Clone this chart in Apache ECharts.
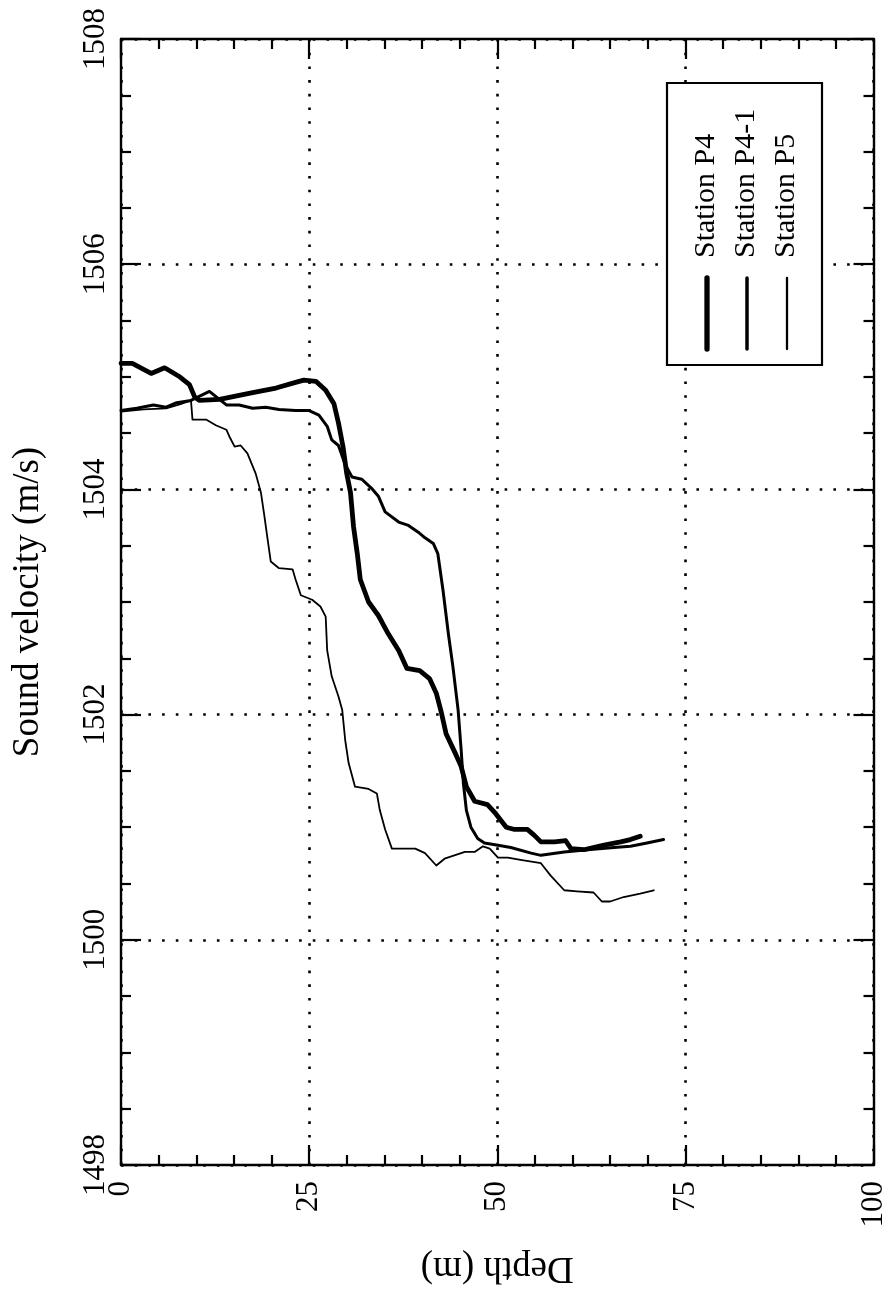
<!DOCTYPE html>
<html>
<head>
<meta charset="utf-8">
<script src="https://cdn.jsdelivr.net/npm/echarts@6/dist/echarts.min.js"></script>
<style>
html,body{margin:0;padding:0;background:#fff;}
#chart{width:889px;height:1293px;}
</style>
</head>
<body>
<div id="chart"></div>
<script>
// ---- Data ----
const seriesNames = ['Station P4', 'Station P4-1', 'Station P5'];

const p4Depth = [0,1.5,4,5.8,7.8,9.1,9.8,10.4,13.1,17.5,20.6,23.2,24.3,25.9,27.2,28.3,28.9,29.5,30.0,30.5,30.9,31.4,31.8,32.9,34.2,35.5,36.9,38.0,39.7,41.0,41.9,42.6,43.2,44.4,45.2,45.9,47.0,48.7,49.8,51.2,52.3,54.0,54.9,55.8,57.6,59.1,59.8,61.5,64.2,66.4,67.7,69.0];
const p4Vel = [1505.12,1505.12,1505.03,1505.08,1505.00,1504.93,1504.82,1504.79,1504.80,1504.86,1504.90,1504.95,1504.97,1504.96,1504.88,1504.76,1504.59,1504.38,1504.14,1503.97,1503.67,1503.43,1503.20,1503.00,1502.88,1502.72,1502.57,1502.41,1502.39,1502.32,1502.19,1502.01,1501.83,1501.66,1501.54,1501.36,1501.23,1501.20,1501.12,1501.00,1500.98,1500.98,1500.93,1500.87,1500.87,1500.88,1500.81,1500.80,1500.84,1500.87,1500.89,1500.92];

const p41Depth = [0,2.1,4.3,6.0,7.4,9.3,11.75,14.0,15.7,17.5,19.25,21.0,23.2,25.0,26.3,27.4,28.0,28.9,29.8,30.7,32.0,33.3,34.2,35.1,36.9,38.2,39.5,40.4,41.5,42.1,42.8,43.5,44.1,44.8,45.2,45.5,45.9,46.5,47.4,48.3,50.1,51.8,54.5,55.8,58.9,62.0,65.5,67.7,69.9,72.1];
const p41Vel = [1504.70,1504.72,1504.75,1504.73,1504.77,1504.79,1504.87,1504.75,1504.75,1504.72,1504.73,1504.71,1504.70,1504.70,1504.66,1504.56,1504.44,1504.39,1504.22,1504.11,1504.09,1504.01,1503.94,1503.80,1503.71,1503.68,1503.62,1503.57,1503.52,1503.43,1503.10,1502.72,1502.43,1502.04,1501.69,1501.39,1501.15,1501.00,1500.90,1500.86,1500.84,1500.82,1500.77,1500.75,1500.78,1500.80,1500.82,1500.83,1500.86,1500.89];

const p5Depth = [0,3,6,8,9.3,9.5,11.3,12.6,14.0,14.4,15.1,15.9,16.8,17.9,18.6,19.0,19.5,19.9,21.0,22.8,23.2,23.9,25.4,26.5,27.2,27.4,28.0,28.9,29.4,29.8,30.25,31.1,32.9,34.0,34.4,35.1,36.0,39.1,40.4,41.9,43.0,45.7,47.0,48.1,49.0,50.1,51.4,53.1,55.8,57.1,58.9,60.6,62.8,63.9,65.0,66.8,69.0,70.8];
const p5Vel = [1504.69,1504.71,1504.72,1504.76,1504.79,1504.62,1504.62,1504.57,1504.53,1504.47,1504.38,1504.39,1504.32,1504.14,1503.97,1503.79,1503.55,1503.36,1503.30,1503.29,1503.20,1503.06,1503.02,1502.96,1502.87,1502.57,1502.34,1502.16,1502.04,1501.77,1501.57,1501.36,1501.34,1501.30,1501.15,1500.98,1500.81,1500.81,1500.77,1500.66,1500.72,1500.78,1500.78,1500.83,1500.81,1500.73,1500.73,1500.71,1500.68,1500.57,1500.44,1500.43,1500.42,1500.34,1500.34,1500.38,1500.41,1500.44];

const depthTicks = [0, 25, 50, 75, 100];
const velTicks = [1498, 1500, 1502, 1504, 1506, 1508];

// ---- Styles ----
const FONT = 'Liberation Serif';
const lineWidths = [4.8, 3, 1.8];
const depths = [p4Depth, p41Depth, p5Depth];
const vels = [p4Vel, p41Vel, p5Vel];

function zip(a, b) { return a.map((v, i) => [v, b[i]]); }

const dotted = { color: '#000', width: 2.6, type: [2.6, 11.1] };
const tickStyle = { color: '#000', width: 2.2 };

function xAxisCfg(pos, main) {
  return {
    type: 'value', position: pos,
    min: depthTicks[0], max: depthTicks[depthTicks.length - 1], interval: 25,
    name: main ? 'Depth (m)' : '', nameLocation: 'middle', nameGap: 84, nameRotate: 180,
    nameTextStyle: { fontFamily: FONT, fontSize: 37, color: '#000' },
    axisLine: { show: true, onZero: false, lineStyle: { color: '#000', width: 2.4 } },
    axisTick: { show: true, inside: true, length: 20, lineStyle: tickStyle },
    minorTick: { show: true, splitNumber: 5, length: 10, lineStyle: tickStyle },
    axisLabel: { show: main, rotate: 90, margin: 16, fontFamily: FONT, fontSize: 31, color: '#000',
      formatter: v => depthTicks.includes(v) ? String(v) : '' },
    splitLine: { show: main, lineStyle: dotted },
    minorSplitLine: { show: false }
  };
}
function yAxisCfg(pos, main) {
  return {
    type: 'value', position: pos,
    min: velTicks[0], max: velTicks[velTicks.length - 1], interval: 2,
    name: main ? 'Sound velocity (m/s)' : '', nameLocation: 'middle', nameGap: 74, nameRotate: 90,
    nameTextStyle: { fontFamily: FONT, fontSize: 37, color: '#000' },
    axisLine: { show: true, onZero: false, lineStyle: { color: '#000', width: 2.4 } },
    axisTick: { show: true, inside: true, length: 20, lineStyle: tickStyle },
    minorTick: { show: true, splitNumber: 4, length: 10, lineStyle: tickStyle },
    axisLabel: { show: main, rotate: 90, margin: 10, fontFamily: FONT, fontSize: 31, color: '#000',
      formatter: v => velTicks.includes(v) ? String(v) : '' },
    splitLine: { show: main, lineStyle: dotted },
    minorSplitLine: { show: false }
  };
}

// Legend (rotated like the reference) drawn with graphic elements
const legendBox = { left: 667, top: 83, width: 155, height: 282 };
const legendCols = [706, 746, 786];
const legendGraphics = [
  { type: 'rect', z: 100, shape: { x: legendBox.left, y: legendBox.top, width: legendBox.width, height: legendBox.height },
    style: { fill: '#fff', stroke: '#000', lineWidth: 2.2 } }
];
seriesNames.forEach((n, i) => {
  legendGraphics.push({
    type: 'text', z: 101, x: legendCols[i], y: 258, rotation: Math.PI / 2,
    style: { text: n, font: '30px "' + FONT + '"', fill: '#000', align: 'left', verticalAlign: 'middle' }
  });
  legendGraphics.push({
    type: 'line', z: 101, shape: { x1: legendCols[i] + 1, y1: 278, x2: legendCols[i] + 1, y2: 349 },
    style: { stroke: '#000', lineWidth: lineWidths[i] + 0.5, lineCap: 'round' }
  });
});

const chart = echarts.init(document.getElementById('chart'), null, { renderer: 'canvas' });
chart.setOption({
  backgroundColor: '#fff',
  animation: false,
  grid: { left: 121, right: 11, top: 39, bottom: 128, containLabel: false },
  xAxis: [xAxisCfg('bottom', true), xAxisCfg('top', false)],
  yAxis: [yAxisCfg('left', true), yAxisCfg('right', false)],
  series: seriesNames.map((n, i) => ({
    name: n, type: 'line', xAxisIndex: 0, yAxisIndex: 0,
    showSymbol: false, symbol: 'none', smooth: false, z: 5,
    lineStyle: { color: '#000', width: lineWidths[i], join: 'round', cap: 'round' },
    data: zip(depths[i], vels[i])
  })),
  graphic: legendGraphics
});
</script>
</body>
</html>
